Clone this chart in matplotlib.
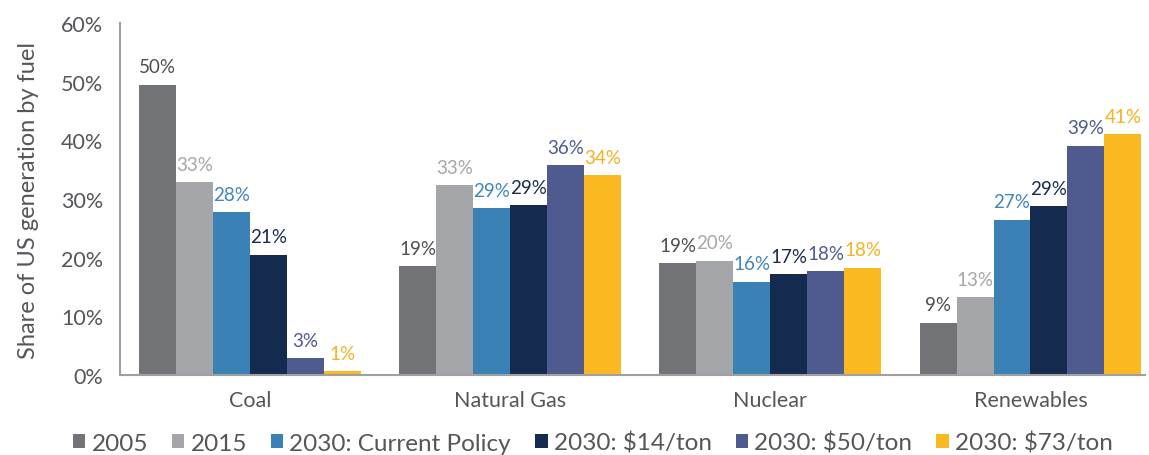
import matplotlib
matplotlib.use("Agg")
import matplotlib.pyplot as plt
import numpy as np

categories = ["Coal", "Natural Gas", "Nuclear", "Renewables"]
series_names = ["2005", "2015", "2030: Current Policy", "2030: $14/ton", "2030: $50/ton", "2030: $73/ton"]
v2005 = [49.5, 18.6, 19.1, 8.9]
v2015 = [32.9, 32.4, 19.5, 13.3]
v_current = [27.8, 28.5, 15.9, 26.5]
v_14 = [20.5, 29.0, 17.2, 28.8]
v_50 = [2.9, 35.8, 17.7, 39.1]
v_73 = [0.7, 34.1, 18.3, 41.1]
labels2005 = ["50%", "19%", "19%", "9%"]
labels2015 = ["33%", "33%", "20%", "13%"]
labels_current = ["28%", "29%", "16%", "27%"]
labels_14 = ["21%", "29%", "17%", "29%"]
labels_50 = ["3%", "36%", "18%", "39%"]
labels_73 = ["1%", "34%", "18%", "41%"]
yticks = [0, 10, 20, 30, 40, 50, 60]

values = [v2005, v2015, v_current, v_14, v_50, v_73]
labels = [labels2005, labels2015, labels_current, labels_14, labels_50, labels_73]
colors = ["#737478", "#A5A6A9", "#3A81B5", "#152A4F", "#4F5B8E", "#FBB921"]
label_colors = ["#4D4E52", "#A5A6A9", "#3F86BC", "#1A2B4C", "#4F5B8E", "#F5B21E"]

plt.rcParams['font.family'] = ['Lato', 'DejaVu Sans']
txt = "#55565A"
fig = plt.figure(figsize=(11.49, 4.56), dpi=100)
ax = fig.add_axes([0.1044, 0.1754, 0.8921, 0.7716])

x = np.arange(len(categories))
w = 0.142
for i, (vals, labs) in enumerate(zip(values, labels)):
    pos = x + (i - 2.5) * w
    ax.bar(pos, vals, width=w, color=colors[i], label=series_names[i], zorder=2)
    for p, v, l in zip(pos, vals, labs):
        ax.text(p, v + 1.6, l, ha="center", va="bottom", fontsize=13.5,
                color=label_colors[i])

ax.set_xlim(-0.499, 3.44)
ax.set_ylim(0, 60)
ax.set_yticks(yticks)
ax.set_yticklabels([f"{t}%" for t in yticks])
ax.set_xticks(x)
ax.set_xticklabels(categories)
ax.tick_params(axis="both", length=0, labelsize=15.5, colors=txt)
ax.tick_params(axis="y", pad=12)
ax.tick_params(axis="x", pad=11)
for s in ["top", "right"]:
    ax.spines[s].set_visible(False)
for s in ["left", "bottom"]:
    ax.spines[s].set_color("#A0A0A0")
    ax.spines[s].set_linewidth(1.5)
ax.set_ylabel("Share of US generation by fuel", fontsize=17, color=txt, labelpad=16)

fig.legend(loc="lower center", ncol=6, bbox_to_anchor=(0.516, -0.045), frameon=False,
           fontsize=17.5, handlelength=0.5, handleheight=0.5, handletextpad=0.25,
           columnspacing=1.0, labelcolor=txt)

fig.savefig("out.png", dpi=100)
